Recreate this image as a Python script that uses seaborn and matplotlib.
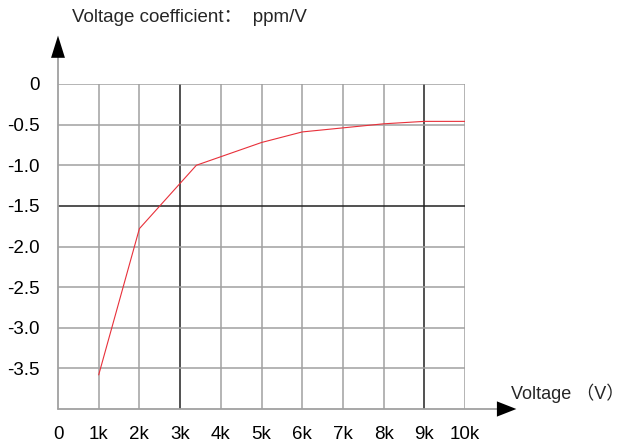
import pandas as pd
import seaborn as sns
import matplotlib.pyplot as plt

# curve
voltage = [1000, 2000, 3400, 5000, 6000, 7000, 8000, 9000, 10000]
coeff = [-3.58, -1.78, -1.0, -0.72, -0.59, -0.54, -0.49, -0.46, -0.46]

x_ticks = [0, 1000, 2000, 3000, 4000, 5000, 6000, 7000, 8000, 9000, 10000]
x_labels = ['0', '1k', '2k', '3k', '4k', '5k', '6k', '7k', '8k', '9k', '10k']
y_ticks = [0, -0.5, -1.0, -1.5, -2.0, -2.5, -3.0, -3.5]
y_labels = ['0', '-0.5', '-1.0', '-1.5', '-2.0', '-2.5', '-3.0', '-3.5']
dark_x = [3000, 9000]
dark_y = [-1.5]

df = pd.DataFrame({'voltage': voltage, 'coeff': coeff})

sns.set_style('white')
plt.rcParams['font.family'] = ['Liberation Sans', 'Noto Sans CJK SC', 'DejaVu Sans']

fig = plt.figure(figsize=(6.23, 4.42), dpi=100)
ax = fig.add_axes([58 / 623, 33 / 442, (465 - 58) / 623, (409 - 84) / 442])

grid = '#a0a0a0'
for v in x_ticks[1:]:
    ax.axvline(v, color='#222222' if v in dark_x else grid, lw=1.1, zorder=1)
for v in y_ticks:
    ax.axhline(v, color='#222222' if v in dark_y else grid, lw=1.1, zorder=1)

sns.lineplot(data=df, x='voltage', y='coeff', color='#e8303a', lw=0.8, ax=ax, zorder=3)

ax.set_xlim(0, 10000)
ax.set_ylim(-4, 0)
for s in ax.spines.values():
    s.set_visible(False)

ax.set_xticks(x_ticks)
ax.set_xticklabels(x_labels)
ax.set_yticks(y_ticks)
ax.set_yticklabels(y_labels)
ax.tick_params(axis='both', length=0, labelsize=13.5, colors='black')
ax.tick_params(axis='x', pad=12)
ax.tick_params(axis='y', pad=13)
ax.set_xlabel('')
ax.set_ylabel('')
ax.grid(False)

# axes with arrow heads
ax.plot([0, 0], [-4, 0.36], color=grid, lw=1.3, clip_on=False, zorder=2)
ax.plot([0, 10860], [-4, -4], color=grid, lw=1.3, clip_on=False, zorder=2)
ax.annotate('', xy=(0, 0.63), xytext=(0, 0.34), annotation_clip=False,
            arrowprops=dict(arrowstyle='-|>,head_length=1.6,head_width=0.5',
                            color='black', lw=0, mutation_scale=10))
ax.annotate('', xy=(11330, -4), xytext=(10840, -4), annotation_clip=False,
            arrowprops=dict(arrowstyle='-|>,head_length=1.4,head_width=0.55',
                            color='black', lw=0, mutation_scale=10))

fig.text(72 / 623, 1 - 18 / 442, 'Voltage coefficient：  ppm/V', fontsize=13.5,
         va='center', ha='left')
fig.text(511 / 623, 1 - 393 / 442, 'Voltage （V）', fontsize=13,
         va='center', ha='left')

fig.savefig('out.png', dpi=100)
